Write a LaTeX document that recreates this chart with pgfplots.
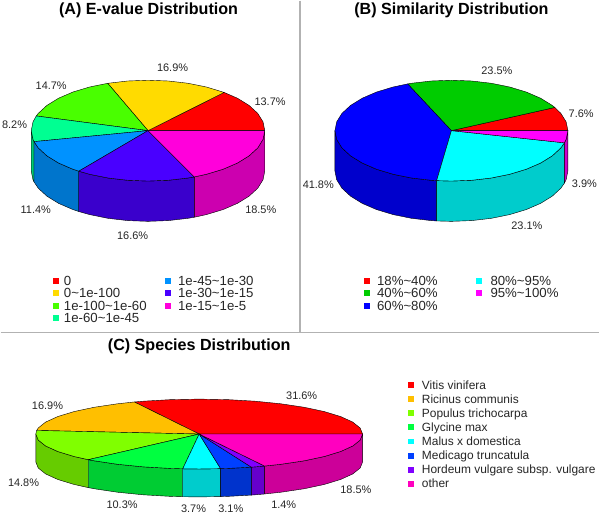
\documentclass[border=0pt]{standalone}
\usepackage{fontspec}
\setmainfont{Liberation Sans}
\usepackage{pgfplots}
\pgfplotsset{compat=1.18}
% sides are the top colour at 80% value
\definecolor{aR}{HTML}{FF0000}\definecolor{aY}{HTML}{FFDB00}\definecolor{aL}{HTML}{49FF00}
\definecolor{aS}{HTML}{00FF92}\definecolor{aB}{HTML}{0092FF}\definecolor{aI}{HTML}{4900FF}
\definecolor{aM}{HTML}{FF00DB}
\definecolor{aSd}{HTML}{00CC75}\definecolor{aBd}{HTML}{0075CC}\definecolor{aId}{HTML}{3A00CC}
\definecolor{aMd}{HTML}{CC00AF}
\definecolor{bR}{HTML}{FF0000}\definecolor{bG}{HTML}{00CC00}\definecolor{bB}{HTML}{0000FF}
\definecolor{bC}{HTML}{00FFFF}\definecolor{bM}{HTML}{FF00FF}
\definecolor{bBd}{HTML}{0000CC}\definecolor{bCd}{HTML}{00CCCC}\definecolor{bMd}{HTML}{CC00CC}
\definecolor{cR}{HTML}{FF0000}\definecolor{cO}{HTML}{FFBF00}\definecolor{cL}{HTML}{80FF00}
\definecolor{cG}{HTML}{00FF40}\definecolor{cC}{HTML}{00FFFF}\definecolor{cB}{HTML}{0040FF}
\definecolor{cP}{HTML}{8000FF}\definecolor{cM}{HTML}{FF00BF}
\definecolor{cLd}{HTML}{66CC00}\definecolor{cGd}{HTML}{00CC33}\definecolor{cCd}{HTML}{00CCCC}
\definecolor{cBd}{HTML}{0033CC}\definecolor{cPd}{HTML}{6600CC}\definecolor{cMd}{HTML}{CC0099}
\pgfplotsset{
  pie/.style={scale only axis,hide axis,clip=false,anchor=center,
    xmin=-1,xmax=1,ymin=-1,ymax=1},
  w/.style={fill=#1,draw=black,line width=0.4pt,line join=round,mark=none},
  sq/.style={only marks,mark=square*,mark size=2.4,color=#1,line width=0pt},
}
\tikzset{
  ttl/.style={font=\fontsize{16.2}{16}\selectfont\bfseries,inner sep=0pt,text=black},
  pct/.style={font=\fontsize{11}{11}\selectfont,inner sep=0pt,text=black!85},
  leg/.style={font=\fontsize{13.3}{13}\selectfont,inner sep=0pt,anchor=west,text=black!85,
    text height=9.4bp,text depth=0bp},
  legc/.style={font=\fontsize{12}{12}\selectfont,inner sep=0pt,anchor=west,text=black!85,
    text height=8.6bp,text depth=0bp},
}
\begin{document}
\begin{tikzpicture}
% page frame, text and legend squares, in the pixels of the reference
\begin{axis}[scale only axis,hide axis,clip=false,width=600bp,height=516bp,
  xmin=0,xmax=600,ymin=0,ymax=516,y dir=reverse]
\addplot[fill=white,draw=none,mark=none] coordinates {(0,0)(600,0)(600,516)(0,516)} --cycle;
\addplot[draw=black!30,line width=1.2pt,mark=none] coordinates {(300,0)(300,332.7)};
\addplot[draw=black!30,line width=1.2pt,mark=none] coordinates {(0,332.7)(600,332.7)};
% legend A
\addplot[sq=aR] coordinates {(55.3,280.7)};
\addplot[sq=aY] coordinates {(55.3,293)};
\addplot[sq=aL] coordinates {(55.3,306)};
\addplot[sq=aS] coordinates {(55.3,318)};
\addplot[sq=aB] coordinates {(167.7,280.7)};
\addplot[sq=aI] coordinates {(167.7,293)};
\addplot[sq=aM] coordinates {(167.7,306)};
% legend B
\addplot[sq=bR] coordinates {(367,280.7)};
\addplot[sq=bG] coordinates {(367,293)};
\addplot[sq=bB] coordinates {(367,306)};
\addplot[sq=bC] coordinates {(479.7,280.7)};
\addplot[sq=bM] coordinates {(479.7,293)};
% legend C
\addplot[sq=cR] coordinates {(411.3,385)};
\addplot[sq=cO] coordinates {(411.3,399.3)};
\addplot[sq=cL] coordinates {(411.3,413.3)};
\addplot[sq=cG] coordinates {(411.3,427.3)};
\addplot[sq=cC] coordinates {(411.3,441.7)};
\addplot[sq=cB] coordinates {(411.3,456)};
\addplot[sq=cP] coordinates {(411.3,470)};
\addplot[sq=cM] coordinates {(411.3,484)};

\node[ttl] at (axis cs:148.3,9.5) {(A) E-value Distribution};
\node[ttl] at (axis cs:451.7,9.5) {(B) Similarity Distribution};
\node[ttl] at (axis cs:199,346) {(C) Species Distribution};

\node[pct] at (axis cs:270,101.7) {13.7\%};
\node[pct] at (axis cs:172.3,67) {16.9\%};
\node[pct] at (axis cs:50.7,85.3) {14.7\%};
\node[pct] at (axis cs:14,124.7) {8.2\%};
\node[pct] at (axis cs:35.3,209.3) {11.4\%};
\node[pct] at (axis cs:132.3,236) {16.6\%};
\node[pct] at (axis cs:260.7,209.3) {18.5\%};

\node[pct] at (axis cs:581.7,113) {7.6\%};
\node[pct] at (axis cs:497.3,70.3) {23.5\%};
\node[pct] at (axis cs:318.3,184.3) {41.8\%};
\node[pct] at (axis cs:527.3,226) {23.1\%};
\node[pct] at (axis cs:585,183.3) {3.9\%};

\node[pct] at (axis cs:301.7,395.7) {31.6\%};
\node[pct] at (axis cs:47,405.7) {16.9\%};
\node[pct] at (axis cs:23,482.7) {14.8\%};
\node[pct] at (axis cs:121.7,505.3) {10.3\%};
\node[pct] at (axis cs:193.3,509.3) {3.7\%};
\node[pct] at (axis cs:230.7,509.3) {3.1\%};
\node[pct] at (axis cs:283.7,504.7) {1.4\%};
\node[pct] at (axis cs:356,490.3) {18.5\%};

\node[leg] at (axis cs:63.3,280.7) {0};
\node[leg] at (axis cs:63.3,293) {0\textasciitilde 1e-100};
\node[leg] at (axis cs:63.3,306) {1e-100\textasciitilde 1e-60};
\node[leg] at (axis cs:63.3,318) {1e-60\textasciitilde 1e-45};
\node[leg] at (axis cs:177.7,280.7) {1e-45\textasciitilde 1e-30};
\node[leg] at (axis cs:177.7,293) {1e-30\textasciitilde 1e-15};
\node[leg] at (axis cs:177.7,306) {1e-15\textasciitilde 1e-5};

\node[leg] at (axis cs:377,280.7) {18\%\textasciitilde 40\%};
\node[leg] at (axis cs:377,293) {40\%\textasciitilde 60\%};
\node[leg] at (axis cs:377,306) {60\%\textasciitilde 80\%};
\node[leg] at (axis cs:490.7,280.7) {80\%\textasciitilde 95\%};
\node[leg] at (axis cs:490.7,293) {95\%\textasciitilde 100\%};

\node[legc] at (axis cs:422,385) {Vitis vinifera};
\node[legc] at (axis cs:422,399.3) {Ricinus communis};
\node[legc] at (axis cs:422,413.3) {Populus trichocarpa};
\node[legc] at (axis cs:422,427.3) {Glycine max};
\node[legc] at (axis cs:422,441.7) {Malus x domestica};
\node[legc] at (axis cs:422,456) {Medicago truncatula};
\node[legc] at (axis cs:422,470) {Hordeum vulgare subsp. vulgare};
\node[legc] at (axis cs:422,484) {other};
\end{axis}

% (A) 13.7 16.9 14.7 8.2 11.4 16.6 18.5
\begin{axis}[pie,at={(147.7bp,385.7bp)},width=234bp,height=101bp]
\addplot[w=aSd] coordinates {(-1,0)(-.985,-.174)(-.976,-.218)(-.976,-1.018)(-.985,-.974)(-1,-.8)} --cycle;
\addplot[w=aBd] coordinates {(-.976,-.218)(-.940,-.342)(-.866,-.5)(-.766,-.643)(-.643,-.766)(-.593,-.805)(-.593,-1.605)(-.643,-1.566)(-.766,-1.443)(-.866,-1.3)(-.940,-1.142)(-.976,-1.018)} --cycle;
\addplot[w=aId] coordinates {(-.593,-.805)(-.5,-.866)(-.342,-.940)(-.174,-.985)(0,-1)(.174,-.985)(.342,-.940)(.397,-.918)(.397,-1.718)(.342,-1.74)(.174,-1.785)(0,-1.8)(-.174,-1.785)(-.342,-1.74)(-.5,-1.666)(-.593,-1.605)} --cycle;
\addplot[w=aMd] coordinates {(.397,-.918)(.5,-.866)(.643,-.766)(.766,-.643)(.866,-.5)(.940,-.342)(.985,-.174)(1,0)(1,-.8)(.985,-.974)(.940,-1.142)(.866,-1.3)(.766,-1.443)(.643,-1.566)(.5,-1.666)(.397,-1.718)} --cycle;
\addplot[w=aR] coordinates {(0,0)(1,0)(.985,.174)(.940,.342)(.866,.5)(.766,.643)(.652,.758)} --cycle;
\addplot[w=aY] coordinates {(0,0)(.652,.758)(.5,.866)(.342,.940)(.174,.985)(0,1)(-.174,.985)(-.345,.939)} --cycle;
\addplot[w=aL] coordinates {(0,0)(-.345,.939)(-.5,.866)(-.643,.766)(-.766,.643)(-.866,.5)(-.940,.342)(-.957,.291)} --cycle;
\addplot[w=aS] coordinates {(0,0)(-.957,.291)(-.985,.174)(-1,0)(-.985,-.174)(-.976,-.218)} --cycle;
\addplot[w=aB] coordinates {(0,0)(-.976,-.218)(-.940,-.342)(-.866,-.5)(-.766,-.643)(-.643,-.766)(-.593,-.805)} --cycle;
\addplot[w=aI] coordinates {(0,0)(-.593,-.805)(-.5,-.866)(-.342,-.940)(-.174,-.985)(0,-1)(.174,-.985)(.342,-.940)(.397,-.918)} --cycle;
\addplot[w=aM] coordinates {(0,0)(.397,-.918)(.5,-.866)(.643,-.766)(.766,-.643)(.866,-.5)(.940,-.342)(.985,-.174)(1,0)} --cycle;
\end{axis}

% (B) 7.6 23.5 41.8 23.1 3.9
\begin{axis}[pie,at={(451.7bp,385.7bp)},width=233.4bp,height=101bp]
\addplot[w=bBd] coordinates {(-1,0)(-.985,-.174)(-.940,-.342)(-.866,-.5)(-.766,-.643)(-.643,-.766)(-.5,-.866)(-.342,-.940)(-.174,-.985)(-.127,-.992)(-.127,-1.792)(-.174,-1.785)(-.342,-1.74)(-.5,-1.666)(-.643,-1.566)(-.766,-1.443)(-.866,-1.3)(-.940,-1.142)(-.985,-.974)(-1,-.8)} --cycle;
\addplot[w=bCd] coordinates {(-.127,-.992)(0,-1)(.174,-.985)(.342,-.940)(.5,-.866)(.643,-.766)(.766,-.643)(.866,-.5)(.940,-.342)(.970,-.242)(.970,-1.042)(.940,-1.142)(.866,-1.3)(.766,-1.443)(.643,-1.566)(.5,-1.666)(.342,-1.74)(.174,-1.785)(0,-1.8)(-.127,-1.792)} --cycle;
\addplot[w=bMd] coordinates {(.970,-.242)(.985,-.174)(1,0)(1,-.8)(.985,-.974)(.970,-1.042)} --cycle;
\addplot[w=bR] coordinates {(0,0)(1,0)(.985,.174)(.940,.342)(.888,.460)} --cycle;
\addplot[w=bG] coordinates {(0,0)(.888,.460)(.866,.5)(.766,.643)(.643,.766)(.5,.866)(.342,.940)(.174,.985)(0,1)(-.174,.985)(-.342,.940)(-.376,.927)} --cycle;
\addplot[w=bB] coordinates {(0,0)(-.376,.927)(-.5,.866)(-.643,.766)(-.766,.643)(-.866,.5)(-.940,.342)(-.985,.174)(-1,0)(-.985,-.174)(-.940,-.342)(-.866,-.5)(-.766,-.643)(-.643,-.766)(-.5,-.866)(-.342,-.940)(-.174,-.985)(-.127,-.992)} --cycle;
\addplot[w=bC] coordinates {(0,0)(-.127,-.992)(0,-1)(.174,-.985)(.342,-.940)(.5,-.866)(.643,-.766)(.766,-.643)(.866,-.5)(.940,-.342)(.970,-.242)} --cycle;
\addplot[w=bM] coordinates {(0,0)(.970,-.242)(.985,-.174)(1,0)} --cycle;
\end{axis}

% (C) 31.6 16.9 14.8 10.3 3.7 3.1 1.4 18.5
\begin{axis}[pie,at={(199bp,81.7bp)},width=327.4bp,height=70bp]
\addplot[w=cLd] coordinates {(-1,0)(-.985,-.174)(-.940,-.342)(-.866,-.5)(-.766,-.643)(-.679,-.734)(-.679,-1.534)(-.766,-1.443)(-.866,-1.3)(-.940,-1.142)(-.985,-.974)(-1,-.8)} --cycle;
\addplot[w=cGd] coordinates {(-.679,-.734)(-.643,-.766)(-.5,-.866)(-.342,-.940)(-.174,-.985)(-.101,-.995)(-.101,-1.795)(-.174,-1.785)(-.342,-1.74)(-.5,-1.666)(-.643,-1.566)(-.679,-1.534)} --cycle;
\addplot[w=cCd] coordinates {(-.101,-.995)(0,-1)(.131,-.991)(.131,-1.791)(0,-1.8)(-.101,-1.795)} --cycle;
\addplot[w=cBd] coordinates {(.131,-.991)(.174,-.985)(.319,-.948)(.319,-1.748)(.174,-1.785)(.131,-1.791)} --cycle;
\addplot[w=cPd] coordinates {(.319,-.948)(.342,-.940)(.400,-.916)(.400,-1.716)(.342,-1.74)(.319,-1.748)} --cycle;
\addplot[w=cMd] coordinates {(.400,-.916)(.5,-.866)(.643,-.766)(.766,-.643)(.866,-.5)(.940,-.342)(.985,-.174)(1,0)(1,-.8)(.985,-.974)(.940,-1.142)(.866,-1.3)(.766,-1.443)(.643,-1.566)(.5,-1.666)(.400,-1.716)} --cycle;
\addplot[w=cR] coordinates {(0,0)(1,0)(.985,.174)(.940,.342)(.866,.5)(.766,.643)(.643,.766)(.5,.866)(.342,.940)(.174,.985)(0,1)(-.174,.985)(-.342,.940)(-.397,.918)} --cycle;
\addplot[w=cO] coordinates {(0,0)(-.397,.918)(-.5,.866)(-.643,.766)(-.766,.643)(-.866,.5)(-.940,.342)(-.985,.174)(-.995,.103)} --cycle;
\addplot[w=cL] coordinates {(0,0)(-.995,.103)(-1,0)(-.985,-.174)(-.940,-.342)(-.866,-.5)(-.766,-.643)(-.679,-.734)} --cycle;
\addplot[w=cG] coordinates {(0,0)(-.679,-.734)(-.643,-.766)(-.5,-.866)(-.342,-.940)(-.174,-.985)(-.101,-.995)} --cycle;
\addplot[w=cC] coordinates {(0,0)(-.101,-.995)(0,-1)(.131,-.991)} --cycle;
\addplot[w=cB] coordinates {(0,0)(.131,-.991)(.174,-.985)(.319,-.948)} --cycle;
\addplot[w=cP] coordinates {(0,0)(.319,-.948)(.342,-.940)(.400,-.916)} --cycle;
\addplot[w=cM] coordinates {(0,0)(.400,-.916)(.5,-.866)(.643,-.766)(.766,-.643)(.866,-.5)(.940,-.342)(.985,-.174)(1,0)} --cycle;
\end{axis}
\end{tikzpicture}
\end{document}
